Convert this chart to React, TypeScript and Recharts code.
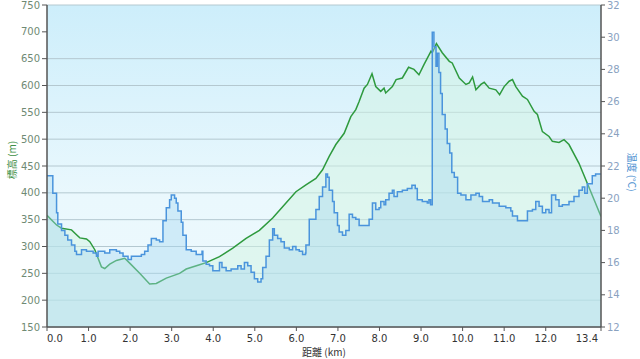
import React from 'react';
import { ComposedChart, Area, XAxis, YAxis, CartesianGrid } from 'recharts';

// Distance (km) / elevation (m)
const elevDist = [0, 0.23, 0.35, 0.59, 0.71, 0.79, 0.95, 1.03, 1.15, 1.31, 1.39, 1.51, 1.67, 1.87, 1.99, 2.23, 2.47, 2.63, 2.87, 3.19, 3.35, 3.67, 3.83, 4.15, 4.47, 4.79, 5.11, 5.43, 5.75, 5.99, 6.23, 6.47, 6.63, 6.79, 6.95, 7.15, 7.31, 7.43, 7.51, 7.63, 7.71, 7.82, 7.91, 8.03, 8.11, 8.15, 8.31, 8.40, 8.55, 8.70, 8.83, 8.95, 9.07, 9.24, 9.27, 9.37, 9.51, 9.68, 9.75, 9.92, 10.08, 10.16, 10.24, 10.32, 10.44, 10.52, 10.64, 10.80, 10.89, 11.0, 11.12, 11.2, 11.28, 11.44, 11.56, 11.72, 11.8, 11.92, 12.08, 12.16, 12.32, 12.44, 12.56, 12.80, 13.0, 13.33];
const elevValues = [358, 340, 334, 331, 322, 316, 314, 309, 294, 262, 259, 267, 274, 278, 269, 250, 230, 231, 241, 250, 258, 266, 270, 281, 297, 315, 330, 353, 381, 402, 415, 427, 443, 468, 490, 511, 542, 555, 570, 595, 602, 622, 598, 589, 595, 586, 598, 611, 614, 634, 630, 620, 639, 664, 661, 678, 661, 645, 642, 614, 602, 605, 616, 592, 602, 606, 595, 592, 583, 598, 608, 611, 598, 580, 574, 552, 546, 514, 505, 496, 494, 499, 490, 455, 418, 356];

// Distance (km) / temperature (°C)
const tempDist = [0, 0.14, 0.23, 0.26, 0.35, 0.43, 0.50, 0.59, 0.67, 0.71, 0.83, 0.95, 1.11, 1.19, 1.23, 1.39, 1.51, 1.67, 1.75, 1.83, 1.95, 2.03, 2.27, 2.35, 2.43, 2.51, 2.63, 2.71, 2.79, 2.87, 2.95, 2.99, 3.07, 3.11, 3.15, 3.23, 3.27, 3.35, 3.47, 3.59, 3.73, 3.75, 3.83, 3.91, 3.99, 4.15, 4.21, 4.31, 4.43, 4.59, 4.67, 4.75, 4.83, 4.91, 4.99, 5.07, 5.15, 5.19, 5.27, 5.35, 5.43, 5.47, 5.55, 5.63, 5.71, 5.83, 5.91, 5.99, 6.07, 6.15, 6.22, 6.23, 6.31, 6.47, 6.55, 6.63, 6.71, 6.75, 6.79, 6.87, 6.91, 6.99, 7.03, 7.11, 7.19, 7.27, 7.35, 7.43, 7.51, 7.75, 7.83, 7.91, 7.99, 8.03, 8.11, 8.15, 8.23, 8.31, 8.35, 8.43, 8.55, 8.67, 8.78, 8.86, 8.91, 9.03, 9.15, 9.19, 9.23, 9.27, 9.31, 9.36, 9.39, 9.43, 9.47, 9.51, 9.58, 9.63, 9.69, 9.74, 9.80, 9.88, 9.96, 10.08, 10.20, 10.32, 10.40, 10.48, 10.64, 10.72, 10.88, 11.04, 11.16, 11.20, 11.32, 11.56, 11.68, 11.76, 11.84, 11.92, 12.0, 12.08, 12.14, 12.24, 12.32, 12.40, 12.56, 12.68, 12.80, 12.88, 12.94, 13.0, 13.12, 13.20, 13.28, 13.33];
const tempValues = [21.4, 20.3, 19.1, 18.4, 18.0, 17.7, 17.4, 17.1, 16.7, 16.5, 16.8, 16.7, 16.6, 16.4, 16.7, 16.6, 16.8, 16.7, 16.6, 16.4, 16.2, 16.4, 16.5, 16.7, 17.1, 17.5, 17.4, 17.3, 18.6, 19.4, 19.9, 20.2, 20.0, 19.7, 19.2, 18.5, 17.7, 16.8, 16.7, 16.5, 16.7, 16.1, 15.9, 15.8, 15.5, 16.0, 15.7, 15.5, 15.6, 15.8, 15.6, 16.0, 15.8, 15.4, 15.0, 14.8, 15.0, 15.7, 16.4, 17.4, 18.1, 17.7, 17.5, 17.3, 16.9, 16.8, 17.0, 16.8, 16.7, 16.5, 16.6, 17.1, 18.7, 19.3, 20.1, 20.7, 21.5, 21.3, 20.5, 19.8, 19.1, 18.3, 17.9, 17.7, 18.0, 19.0, 18.8, 18.7, 18.3, 18.7, 19.7, 19.3, 19.4, 19.8, 19.6, 19.9, 20.3, 20.5, 20.1, 20.4, 20.5, 20.6, 20.8, 20.6, 19.9, 19.8, 19.7, 19.9, 19.6, 30.3, 29.4, 28.2, 29.0, 27.8, 26.5, 25.2, 24.3, 23.4, 22.8, 21.6, 21.3, 20.3, 20.2, 19.9, 20.2, 20.3, 20.1, 19.8, 19.9, 19.7, 19.5, 19.4, 19.2, 18.9, 18.6, 19.2, 19.3, 19.8, 19.5, 19.1, 19.3, 19.1, 20.2, 19.9, 19.5, 19.6, 19.8, 20.1, 20.5, 20.7, 20.3, 20.9, 21.4, 21.5, 21.5, 21.5];

const xTicks = [0, 1, 2, 3, 4, 5, 6, 7, 8, 9, 10, 11, 12, 13.33];
const xTickLabels = ['0.0', '1.0', '2.0', '3.0', '4.0', '5.0', '6.0', '7.0', '8.0', '9.0', '10.0', '11.0', '12.0', '13.4'];
const elevTicks = [150, 200, 250, 300, 350, 400, 450, 500, 550, 600, 650, 700, 750];
const tempTicks = [12, 14, 16, 18, 20, 22, 24, 26, 28, 30, 32];

const elevData = elevDist.map((d, i) => ({ dist: d, elev: elevValues[i] }));
const tempData = tempDist.map((d, i) => ({ dist: d, temp: tempValues[i] }));

const FONT = '"DejaVu Sans", Verdana, sans-serif';
const CJK = '"Noto Sans CJK JP", "DejaVu Sans", sans-serif';

const XTick = (props: any) => {
  const { x, y, payload, index } = props;
  const last = xTicks.length - 1;
  const anchor = index === 0 ? 'start' : index === last ? 'end' : 'middle';
  const dx = index === last ? -3 : 0;
  return (
    <text x={x + dx} y={y + 9} textAnchor={anchor} fontSize={10} fontFamily={FONT} fill="#333">
      {xTickLabels[index] ?? String(payload.value)}
    </text>
  );
};

const LeftLabel = () => (
  <text x={11} y={160} transform="rotate(-90 11 160)" textAnchor="middle" dominantBaseline="central" fontSize={10} fontFamily={CJK} fill="#3d8f45">
    標高 (m)
  </text>
);

const RightLabel = () => (
  <text x={632} y={172} transform="rotate(90 632 172)" textAnchor="middle" dominantBaseline="central" fontSize={10} fontFamily={CJK} fill="#4a8fd0">
    温度 (°C)
  </text>
);

export default function App() {
  return (
    <div style={{ position: 'absolute', left: 0, top: 0, width: 640, height: 359, background: '#fff' }}>
      <ComposedChart width={640} height={359} margin={{ top: 5, right: 0, bottom: 0, left: 0 }}>
        <defs>
          <linearGradient id="bgGrad" x1="0" y1="0" x2="0" y2="1">
            <stop offset="0%" stopColor="#cdeefb" />
            <stop offset="60%" stopColor="#eaf8fd" />
            <stop offset="100%" stopColor="#eef9fd" />
          </linearGradient>
        </defs>
        <CartesianGrid yAxisId="elev" vertical={false} stroke="#b4c8d0" strokeWidth={1} fill="url(#bgGrad)" />
        <XAxis
          dataKey="dist"
          type="number"
          domain={[0, 13.33]}
          ticks={xTicks}
          allowDataOverflow
          height={32}
          tick={<XTick />}
          tickLine={{ stroke: '#555' }}
          axisLine={{ stroke: '#555', strokeWidth: 1.5 }}
          tickSize={4}
          label={{ value: '距離  (km)', position: 'insideBottom', offset: 3, fontSize: 10, fontFamily: CJK, fill: '#333' }}
        />
        <YAxis
          yAxisId="elev"
          orientation="left"
          domain={[150, 750]}
          ticks={elevTicks}
          width={47}
          tick={{ fontSize: 10, fontFamily: FONT, fill: '#6f8a74' }}
          tickLine={{ stroke: '#555' }}
          axisLine={{ stroke: '#555', strokeWidth: 1.5 }}
          tickSize={5}
          label={<LeftLabel />}
        />
        <YAxis
          yAxisId="temp"
          orientation="right"
          domain={[12, 32]}
          ticks={tempTicks}
          width={39}
          tick={{ fontSize: 10, fontFamily: FONT, fill: '#8aa2bf' }}
          tickLine={{ stroke: '#555' }}
          axisLine={{ stroke: '#555', strokeWidth: 1.5 }}
          tickSize={4}
          label={<RightLabel />}
        />
        <Area
          yAxisId="elev"
          data={elevData}
          dataKey="elev"
          type="linear"
          stroke="#2e9a3e"
          strokeWidth={1.5}
          fill="#d2f4e2"
          fillOpacity={0.5}
          baseValue={150}
          isAnimationActive={false}
          dot={false}
          activeDot={false}
        />
        <Area
          yAxisId="temp"
          data={tempData}
          dataKey="temp"
          type="stepAfter"
          stroke="#4a94dc"
          strokeWidth={1.5}
          fill="#a6d6f0"
          fillOpacity={0.4}
          baseValue={12}
          isAnimationActive={false}
          dot={false}
          activeDot={false}
        />
      </ComposedChart>
    </div>
  );
}
